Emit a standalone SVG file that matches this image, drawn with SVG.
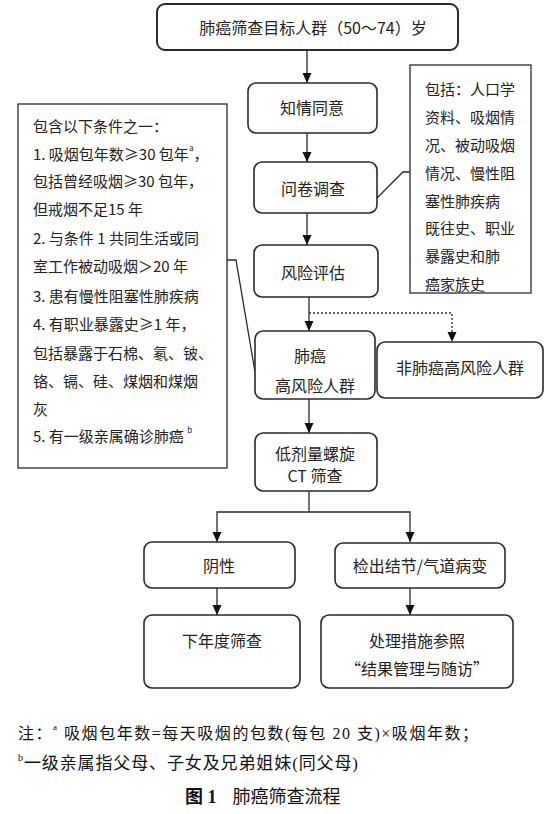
<svg xmlns="http://www.w3.org/2000/svg" width="556" height="814" viewBox="0 0 556 814">
<style>
.bx{fill:#fff;stroke:#2a2a2a;stroke-width:1.6}
.tb{fill:#fff;stroke:#2a2a2a;stroke-width:1.3}
.t{font-family:"Noto Sans CJK SC","Liberation Sans",sans-serif;font-size:16px;fill:#222;text-anchor:middle;dominant-baseline:central}
.l{font-family:"Noto Sans CJK SC","Liberation Sans",sans-serif;font-size:15px;fill:#222;dominant-baseline:central}
.n{font-family:"Liberation Serif","Noto Sans CJK SC",serif;font-size:16px;fill:#111;dominant-baseline:central}
.ln{fill:none;stroke:#2a2a2a;stroke-width:1.3}
.dot{fill:none;stroke:#2a2a2a;stroke-width:1.3;stroke-dasharray:2,2}
</style>
<defs>
<marker id="ah" viewBox="0 0 10 10" refX="10" refY="5" markerWidth="10" markerHeight="10" markerUnits="userSpaceOnUse" orient="auto">
<path d="M0,0.5 L10,5 L0,9.5 z" fill="#111"/>
</marker>
</defs>
<rect width="556" height="814" fill="#fff"/>
<g id="connectors">
<line class="ln" x1="307" y1="50" x2="307" y2="83" marker-end="url(#ah)"/>
<line class="ln" x1="307" y1="133" x2="307" y2="162" marker-end="url(#ah)"/>
<line class="ln" x1="307" y1="213" x2="307" y2="245" marker-end="url(#ah)"/>
<polyline class="ln" points="377,198 403,172 410,172"/>
<line class="ln" x1="309" y1="297" x2="309" y2="331" marker-end="url(#ah)"/>
<polyline class="dot" points="309,313 452,313 452,342" marker-end="url(#ah)"/>
<polyline class="ln" points="227,260 236,260 255,372"/>
<line class="ln" x1="309" y1="399" x2="309" y2="433" marker-end="url(#ah)"/>
<polyline class="ln" points="309,491 309,512"/>
<polyline class="ln" points="309,512 217,512 217,542" marker-end="url(#ah)"/>
<polyline class="ln" points="309,512 410,512 410,542" marker-end="url(#ah)"/>
<line class="ln" x1="217" y1="588" x2="217" y2="615" marker-end="url(#ah)"/>
<line class="ln" x1="410" y1="588" x2="410" y2="615" marker-end="url(#ah)"/>
</g>
<g id="target">
<rect class="bx" x="157" y="4" width="301" height="46" rx="8" style="stroke-width:2"/>
<text class="t" x="313" y="27">肺癌筛查目标人群（50～74）岁</text>
</g>
<g id="consent">
<rect class="bx" x="248" y="83" width="129" height="50" rx="8"/>
<text class="t" x="312" y="107">知情同意</text>
</g>
<g id="survey">
<rect class="bx" x="254" y="162" width="123" height="51" rx="8"/>
<text class="t" x="313" y="188">问卷调查</text>
</g>
<g id="assess">
<rect class="bx" x="254" y="245" width="124" height="52" rx="8"/>
<text class="t" x="313" y="272">风险评估</text>
</g>
<g id="survey-note">
<rect class="tb" x="410" y="65" width="121" height="228"/>
<text class="l" x="425" y="88">包括：人口学</text>
<text class="l" x="425" y="116">资料、吸烟情</text>
<text class="l" x="425" y="144">况、被动吸烟</text>
<text class="l" x="425" y="172">情况、慢性阻</text>
<text class="l" x="425" y="200">塞性肺疾病</text>
<text class="l" x="425" y="227">既往史、职业</text>
<text class="l" x="425" y="255">暴露史和肺</text>
<text class="l" x="425" y="283">癌家族史</text>
</g>
<g id="criteria">
<rect class="tb" x="18" y="104" width="209" height="364"/>
<text class="l" x="33" y="125">包含以下条件之一：</text>
<text class="l" x="33" y="153">1. 吸烟包年数≥30 包年<tspan style="font-size:8px" dy="-6">a</tspan><tspan dy="6">，</tspan></text>
<text class="l" x="33" y="180">包括曾经吸烟≥30 包年，</text>
<text class="l" x="33" y="208">但戒烟不足15 年</text>
<text class="l" x="33" y="237">2. 与条件 1 共同生活或同</text>
<text class="l" x="33" y="265">室工作被动吸烟＞20 年</text>
<text class="l" x="33" y="295">3. 患有慢性阻塞性肺疾病</text>
<text class="l" x="33" y="323">4. 有职业暴露史≥1 年，</text>
<text class="l" x="33" y="352">包括暴露于石棉、氡、铍、</text>
<text class="l" x="33" y="380">铬、镉、硅、煤烟和煤烟</text>
<text class="l" x="33" y="408">灰</text>
<text class="l" x="33" y="435">5. 有一级亲属确诊肺癌 <tspan style="font-size:8px" dy="-6">b</tspan></text>
</g>
<g id="high-risk">
<rect class="bx" x="255" y="331" width="120" height="68" rx="8"/>
<text class="t" x="310" y="355">肺癌</text>
<text class="t" x="315" y="385">高风险人群</text>
</g>
<g id="non-high-risk">
<rect class="bx" x="377" y="342" width="166" height="56" rx="8"/>
<text class="t" x="460" y="367">非肺癌高风险人群</text>
</g>
<g id="ldct">
<rect class="bx" x="255" y="433" width="122" height="58" rx="8"/>
<text class="t" x="315" y="453">低剂量螺旋</text>
<text class="t" x="315" y="475">CT 筛查</text>
</g>
<g id="negative">
<rect class="bx" x="144" y="542" width="151" height="46" rx="8"/>
<text class="t" x="219" y="565">阴性</text>
</g>
<g id="detected">
<rect class="bx" x="335" y="543" width="170" height="45" rx="8"/>
<text class="t" x="420" y="565">检出结节/气道病变</text>
</g>
<g id="next-year">
<rect class="bx" x="144" y="615" width="156" height="73" rx="8"/>
<text class="t" x="222" y="640">下年度筛查</text>
</g>
<g id="handling">
<rect class="bx" x="321" y="615" width="192" height="73" rx="8"/>
<text class="t" x="417" y="640">处理措施参照</text>
<text class="t" x="417" y="668">“结果管理与随访”</text>
</g>
<g id="notes">
<text class="n" x="18" y="733" textLength="460">注：<tspan style="font-size:9px" dy="-6">a</tspan><tspan dy="6"> 吸烟包年数=每天吸烟的包数(每包 20 支)×吸烟年数；</tspan></text>
<text class="n" x="18" y="763" style="font-size:17px" textLength="340"><tspan style="font-size:10px" dy="-6">b</tspan><tspan dy="6">一级亲属指父母、子女及兄弟姐妹(同父母)</tspan></text>
<text class="n" x="185" y="797" style="font-size:18px;font-weight:bold">图 1<tspan style="font-weight:normal" dx="16">肺癌筛查流程</tspan></text>
</g>
</svg>
